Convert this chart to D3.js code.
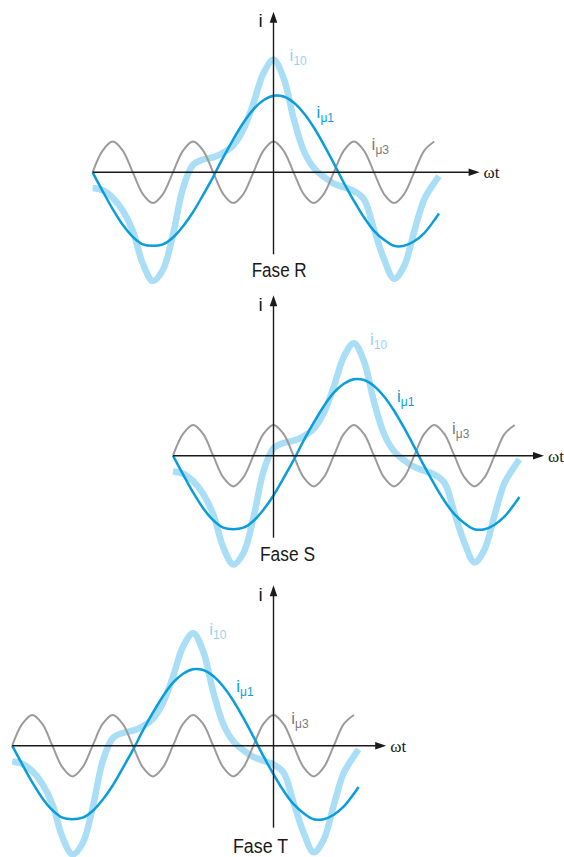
<!DOCTYPE html>
<html>
<head>
<meta charset="utf-8">
<script src="https://cdn.jsdelivr.net/npm/d3@7"></script>
<style>
  html, body { margin: 0; padding: 0; background: #fff; }
  svg { display: block; }
  .lbl { font-family: "Liberation Sans Narrow", "Arial Narrow", "Liberation Sans", Arial, sans-serif; }
  .wt { font-family: "Liberation Serif", "Times New Roman", serif; }
</style>
</head>
<body>
<svg id="canvas" width="564" height="857"></svg>
<script>
// electrical angle (deg) measured from the left end of each trace
let theta = [0, 15, 30, 45, 60, 75, 90, 105, 120, 135, 150, 165, 180, 195, 210, 225, 240, 255,
  270, 285, 300, 315, 330, 345, 360, 375, 390, 405, 420, 435, 450, 465, 480, 495, 510, 517];

// fundamental magnetising current i_mu1
let iMu1 = [0, -0.25, -0.49, -0.70, -0.86, -0.96, -0.98, -0.96, -0.87, -0.72, -0.53, -0.30, -0.06,
  0.20, 0.44, 0.66, 0.84, 0.96, 1.02, 1.01, 0.93, 0.79, 0.60, 0.37, 0.12, -0.14, -0.38, -0.60,
  -0.78, -0.90, -0.98, -0.98, -0.92, -0.81, -0.64, -0.55];

// third harmonic i_mu3 (ends at 510)
let iMu3 = [0, 0.29, 0.41, 0.29, 0, -0.29, -0.41, -0.29, 0, 0.29, 0.41, 0.29, 0, -0.29, -0.41, -0.29,
  0, 0.29, 0.41, 0.29, 0, -0.29, -0.41, -0.29, 0, 0.29, 0.41, 0.29, 0, -0.29, -0.41, -0.29,
  0, 0.29, 0.41];

// no-load current i_10
let i10 = [-0.21, -0.24, -0.34, -0.51, -0.78, -1.22, -1.45, -1.30, -0.83, -0.21, 0.10, 0.17, 0.20,
  0.26, 0.36, 0.57, 0.92, 1.32, 1.50, 1.26, 0.72, 0.29, 0.06, -0.06, -0.15, -0.20, -0.25, -0.36,
  -0.76, -1.16, -1.42, -1.25, -0.79, -0.36, -0.14, -0.05];

// phases: angle where the i axis sits
let phaseNames = ['Fase R', 'Fase S', 'Fase T'];
let phaseAxis = [270, 150, 390];

// layout per panel
let panels = [
  { y: 172.3, axisLen: 387, faseX: 251.7, faseDy: 104.5 },
  { y: 455.7, axisLen: 371, faseX: 260, faseDy: 105.5 },
  { y: 745.7, axisLen: 374, faseX: 233, faseDy: 107.5 }
];

let axisX = 273.5;
let cLight = '#a9def6';
let cBlue = '#0a9ddb';
let cGray = '#9b9b9b';
let cAxis = '#1a1a1a';

let canvas = d3.select('#canvas');

let x = d3.scaleLinear().domain([0, 510]).range([0, 341.7]);
let y = d3.scaleLinear().domain([-1, 1]).range([75, -75]);

let line = (values) => {
  return d3.line()
    .x((d, i) => x(theta[i]))
    .y((d) => y(d))
    .curve(d3.curveCatmullRom.alpha(0.5))(values);
};

let drawPanel = (p, k) => {
  let x0 = axisX - x(phaseAxis[k]);
  let g = canvas.append('g').attr('transform', `translate(${x0},${p.y})`);

  g.append('path').attr('d', line(i10))
    .attr('fill', 'none').attr('stroke', cLight).attr('stroke-width', 6.5)
    .attr('stroke-linecap', 'butt');
  g.append('path').attr('d', line(iMu3))
    .attr('fill', 'none').attr('stroke', cGray).attr('stroke-width', 2);
  g.append('path').attr('d', line(iMu1))
    .attr('fill', 'none').attr('stroke', cBlue).attr('stroke-width', 2.5);

  // horizontal axis
  g.append('line')
    .attr('x1', 0).attr('y1', 0).attr('x2', p.axisLen - 8).attr('y2', 0)
    .attr('stroke', cAxis).attr('stroke-width', 1.4);
  g.append('path')
    .attr('d', `M${p.axisLen},0 L${p.axisLen - 11},-3.8 L${p.axisLen - 11},3.8 Z`)
    .attr('fill', cAxis);
  g.append('text').attr('class', 'wt')
    .attr('x', p.axisLen + 4).attr('y', 6)
    .attr('font-size', 17).attr('fill', cAxis)
    .text('ωt');

  // vertical axis
  let ax = x(phaseAxis[k]);
  g.append('line')
    .attr('x1', ax).attr('y1', 82).attr('x2', ax).attr('y2', -152)
    .attr('stroke', cAxis).attr('stroke-width', 1.4);
  g.append('path')
    .attr('d', `M${ax},-160.5 L${ax - 3.8},-149.5 L${ax + 3.8},-149.5 Z`)
    .attr('fill', cAxis);
  g.append('text').attr('class', 'lbl')
    .attr('x', ax - 15).attr('y', -145)
    .attr('font-size', 19).attr('fill', cAxis)
    .text('i');

  // curve labels
  let sub = (tx, ty, s, color) => {
    let t = g.append('text').attr('class', 'lbl')
      .attr('x', tx).attr('y', ty).attr('fill', color).attr('font-size', 17);
    t.append('tspan').text('i');
    t.append('tspan').attr('dy', 4).attr('font-size', 12).text(s);
  };
  sub(197, -111, '10', '#95d4f1');
  sub(224, -54, 'μ1', cBlue);
  sub(279, -22, 'μ3', '#7a7a7a');

  canvas.append('text').attr('class', 'lbl')
    .attr('x', p.faseX).attr('y', p.y + p.faseDy)
    .attr('font-size', 20).attr('fill', cAxis)
    .attr('textLength', 55).attr('lengthAdjust', 'spacingAndGlyphs')
    .text(phaseNames[k]);
};

panels.forEach(drawPanel);
</script>
</body>
</html>
